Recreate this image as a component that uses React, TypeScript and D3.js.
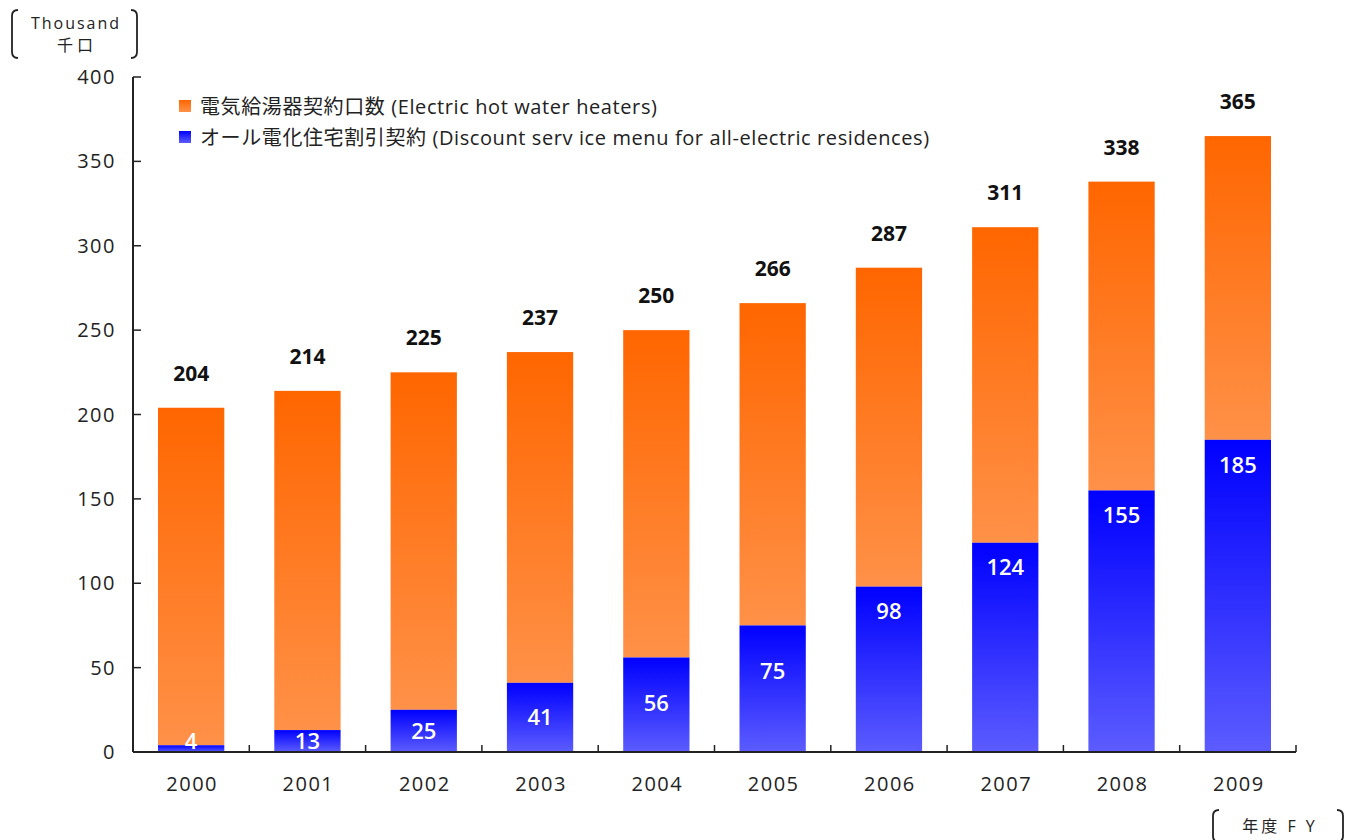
import { useMemo } from 'react';
import { scaleBand, scaleLinear } from 'd3';

const years = ['2000', '2001', '2002', '2003', '2004', '2005', '2006', '2007', '2008', '2009'];
const totalValues = [204, 214, 225, 237, 250, 266, 287, 311, 338, 365];
const discountValues = [4, 13, 25, 41, 56, 75, 98, 124, 155, 185];
const yTicks = [0, 50, 100, 150, 200, 250, 300, 350, 400];
const legendLabels = [
  '電気給湯器契約口数 (Electric hot water heaters)',
  'オール電化住宅割引契約 (Discount serv ice menu for all-electric residences)',
];

const WIDTH = 1347;
const HEIGHT = 840;
const margin = { left: 133, right: 51, top: 77, bottom: 88 };
const font = "'Open Sans', 'Noto Sans CJK JP', sans-serif";
const axisColor = '#222';

// bracket shape like the one round the unit labels
const bracket = (x: number, y0: number, y1: number, dir: number) => {
  const r = 6;
  return `M${x + dir * r},${y0} Q${x},${y0} ${x},${y0 + r} L${x},${y1 - r} Q${x},${y1} ${x + dir * r},${y1}`;
};

const App = () => {
  const x = useMemo(
    () => scaleBand<string>().domain(years).range([margin.left, WIDTH - margin.right]).paddingInner(0.43).paddingOuter(0.215),
    [],
  );
  const y = useMemo(() => scaleLinear().domain([0, 400]).range([HEIGHT - margin.bottom, margin.top]), []);
  const zero = y(0);
  const bw = x.bandwidth();
  const step = x.step();

  const blueLabelY = (v: number) => {
    const top = y(v);
    const h = zero - top;
    if (h > 150) return top + 25;
    return Math.min(top + 46, (top + zero) / 2, zero - 11);
  };

  return (
    <svg width={WIDTH} height={HEIGHT} style={{ display: 'block', position: 'absolute', left: 0, top: 0, background: '#fff' }}>
      <defs>
        <linearGradient id="gOrange" x1="0" y1="0" x2="0" y2="1">
          <stop offset="0%" stopColor="#ff6600" />
          <stop offset="100%" stopColor="#ff9148" />
        </linearGradient>
        <linearGradient id="gBlue" x1="0" y1="0" x2="0" y2="1">
          <stop offset="0%" stopColor="#0000ff" />
          <stop offset="100%" stopColor="#5c5cff" />
        </linearGradient>
      </defs>

      {/* unit label */}
      <path d={bracket(12, 10, 58, 1)} fill="none" stroke="#222" strokeWidth={1.8} />
      <path d={bracket(137, 10, 58, -1)} fill="none" stroke="#222" strokeWidth={1.8} />
      <text x={76} y={29} textAnchor="middle" fontFamily={font} fontSize={16} letterSpacing={2} fill="#222">Thousand</text>
      <text x={75} y={51} textAnchor="middle" fontFamily={font} fontSize={16} fill="#222">千 口</text>

      {/* bars */}
      {years.map((yr, i) => {
        const x0 = x(yr) as number;
        const top = y(totalValues[i]);
        const mid = y(discountValues[i]);
        return (
          <g key={yr}>
            <rect x={x0} y={top} width={bw} height={mid - top} fill="url(#gOrange)" />
            <rect x={x0} y={mid} width={bw} height={zero - mid} fill="url(#gBlue)" />
            <text x={x0 + bw / 2} y={top - 27} textAnchor="middle" fontFamily={font} fontWeight={700} fontSize={21} fill="#111">
              {totalValues[i]}
            </text>
            <text x={x0 + bw / 2} y={blueLabelY(discountValues[i])} dy="0.35em" textAnchor="middle" fontFamily={font} fontWeight={600} fontSize={22} fill="#fff">
              {discountValues[i]}
            </text>
            <text x={x0 + bw / 2 + 1} y={791} textAnchor="middle" fontFamily={font} fontSize={20} letterSpacing={1.5} fill="#222">{yr}</text>
          </g>
        );
      })}

      {/* y axis */}
      <line x1={margin.left} x2={margin.left} y1={y(400)} y2={zero} stroke={axisColor} strokeWidth={2} />
      {yTicks.map((t) => (
        <g key={t}>
          <line x1={margin.left} x2={margin.left + 8} y1={y(t)} y2={y(t)} stroke={axisColor} strokeWidth={1.5} />
          <text x={116} y={y(t)} dy="0.35em" textAnchor="end" fontFamily={font} fontSize={20} letterSpacing={1.5} fill="#222">{t}</text>
        </g>
      ))}

      {/* x axis */}
      <line x1={margin.left} x2={WIDTH - margin.right} y1={zero} y2={zero} stroke={axisColor} strokeWidth={2} />
      {years.map((yr, i) => (
        <line key={yr} x1={margin.left + (i + 1) * step} x2={margin.left + (i + 1) * step} y1={zero} y2={zero - 7} stroke={axisColor} strokeWidth={1.5} />
      ))}

      {/* legend */}
      {legendLabels.map((lbl, i) => (
        <g key={lbl} transform={`translate(179,${100 + i * 31})`}>
          <rect x={0} y={0} width={12} height={12} fill={i === 0 ? 'url(#gOrange)' : 'url(#gBlue)'} />
          <text x={21} y={14} fontFamily={font} fontSize={20} letterSpacing={0.6} fill="#222">{lbl}</text>
        </g>
      ))}

      {/* FY label */}
      <path d={bracket(1213, 810, 842, 1)} fill="none" stroke="#222" strokeWidth={1.8} />
      <path d={bracket(1343, 810, 842, -1)} fill="none" stroke="#222" strokeWidth={1.8} />
      <text x={1280} y={832} textAnchor="middle" fontFamily={font} fontSize={16} letterSpacing={3} fill="#222">年度 F Y</text>
    </svg>
  );
};

export default App;
